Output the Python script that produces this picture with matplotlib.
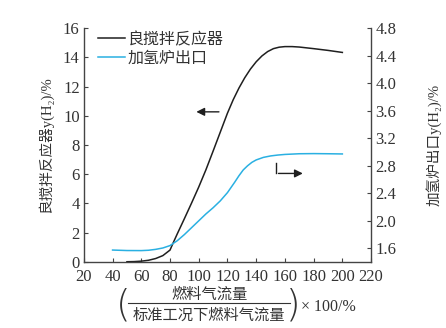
import matplotlib.pyplot as plt
import numpy as np
from matplotlib.lines import Line2D

plt.rcParams['font.family'] = ['Liberation Serif', 'Noto Sans CJK SC']

# black curve: stirred reactor y(H2) / %  (left axis)
x_stir = [50, 55, 60, 65, 70, 75, 80, 82, 85, 90, 95, 100, 105, 110, 115, 120, 124,
          128, 132, 136, 140, 144, 148, 152, 156, 160, 165, 170, 180, 190, 200]
y_stir = [0.0, 0.01, 0.04, 0.1, 0.22, 0.42, 0.8, 1.25, 1.9, 2.95, 4.02, 5.12, 6.3, 7.58, 8.88, 10.18, 11.1,
          11.9, 12.6, 13.2, 13.7, 14.1, 14.4, 14.6, 14.7, 14.74, 14.74, 14.71, 14.6, 14.48, 14.34]

# blue curve: hydrogenation furnace outlet y(H2) / %  (right axis)
x_furn = [40, 50, 60, 65, 70, 75, 80, 85, 90, 95, 100, 105, 110, 115, 120, 125, 128, 131,
          134, 137, 140, 145, 150, 155, 160, 170, 180, 190, 200]
y_furn = [1.575, 1.568, 1.567, 1.572, 1.585, 1.605, 1.64, 1.71, 1.80, 1.90, 2.0, 2.1, 2.19, 2.29, 2.41, 2.56, 2.655, 2.74,
          2.8, 2.85, 2.885, 2.922, 2.943, 2.956, 2.965, 2.975, 2.977, 2.975, 2.972]

x_ticks = np.arange(20, 221, 20)
yl_ticks = np.arange(0, 17, 2)
yr_ticks = [1.6, 2.0, 2.4, 2.8, 3.2, 3.6, 4.0, 4.4, 4.8]

black = '#1f1f1f'
blue = '#2ab0e2'
txt = '#333333'

fig = plt.figure(figsize=(4.46, 3.28), dpi=100)
ax = fig.add_axes([0.188, 0.202, 0.644, 0.712])
ax2 = ax.twinx()

ax.plot(x_stir, y_stir, color=black, lw=1.1)
ax2.plot(x_furn, y_furn, color=blue, lw=1.1)

ax.set_xlim(20, 220)
ax.set_ylim(0, 16)
ax2.set_ylim(1.405, 4.8)
ax.set_xticks(x_ticks)
ax.set_yticks(yl_ticks)
ax2.set_yticks(yr_ticks)
ax2.set_yticklabels(['%.1f' % v for v in yr_ticks])

for a in (ax, ax2):
    a.spines['top'].set_visible(False)
    for s in a.spines.values():
        s.set_color('#444444')
        s.set_linewidth(1.0)
ax.spines['right'].set_visible(False)
ax2.spines['left'].set_visible(False)
ax2.spines['bottom'].set_visible(False)

ax.tick_params(axis='both', direction='in', length=3, labelsize=12, colors='#444444', labelcolor=txt)
ax.tick_params(axis='x', pad=5)
ax.tick_params(axis='y', pad=3)
ax2.tick_params(axis='y', direction='in', length=3, labelsize=12, colors='#444444', labelcolor=txt, pad=3)

ax.set_ylabel('良搅拌反应器y(H₂)/%', fontsize=10.5, color=txt, labelpad=7)
ax2.set_ylabel('加氢炉出口y(H₂)/%', fontsize=10.5, color=txt, labelpad=21)

# legend
handles = [Line2D([], [], color=black, lw=1.1), Line2D([], [], color=blue, lw=1.1)]
ax.legend(handles, ['良搅拌反应器', '加氢炉出口'], loc='upper left', bbox_to_anchor=(0.0, 1.045),
          frameon=False, fontsize=11.5, handlelength=1.7, handletextpad=0.15,
          labelspacing=0.15, labelcolor=txt)

# arrows
ax.annotate('', xy=(96.4, 10.27), xytext=(116, 10.27),
            arrowprops=dict(arrowstyle='-|>', color=black, lw=1.0, mutation_scale=12))
ax.plot([153.6, 153.6], [6.78, 6.05], color=black, lw=1.0)
ax.annotate('', xy=(174.4, 6.05), xytext=(153.6, 6.05),
            arrowprops=dict(arrowstyle='-|>', color=black, lw=1.0, mutation_scale=12))

# x label as fraction
W, H = 446.0, 328.0
fig.text(210 / W, 1 - 295 / H, '燃料气流量', ha='center', va='center', fontsize=11, color=txt)
fig.add_artist(Line2D([128 / W, 290 / W], [1 - 303 / H, 1 - 303 / H], color=txt, lw=0.8))
fig.text(209 / W, 1 - 316 / H, '标准工况下燃料气流量', ha='center', va='center', fontsize=11, color=txt)
fig.text(123 / W, 1 - 305 / H, '(', ha='center', va='center', fontsize=27, color=txt,
         family='DejaVu Sans', fontweight='light')
fig.text(293 / W, 1 - 305 / H, ')', ha='center', va='center', fontsize=27, color=txt,
         family='DejaVu Sans', fontweight='light')
fig.text(301 / W, 1 - 307 / H, '× 100/%', ha='left', va='center', fontsize=11.5, color=txt)

fig.savefig('out.png', dpi=100)
